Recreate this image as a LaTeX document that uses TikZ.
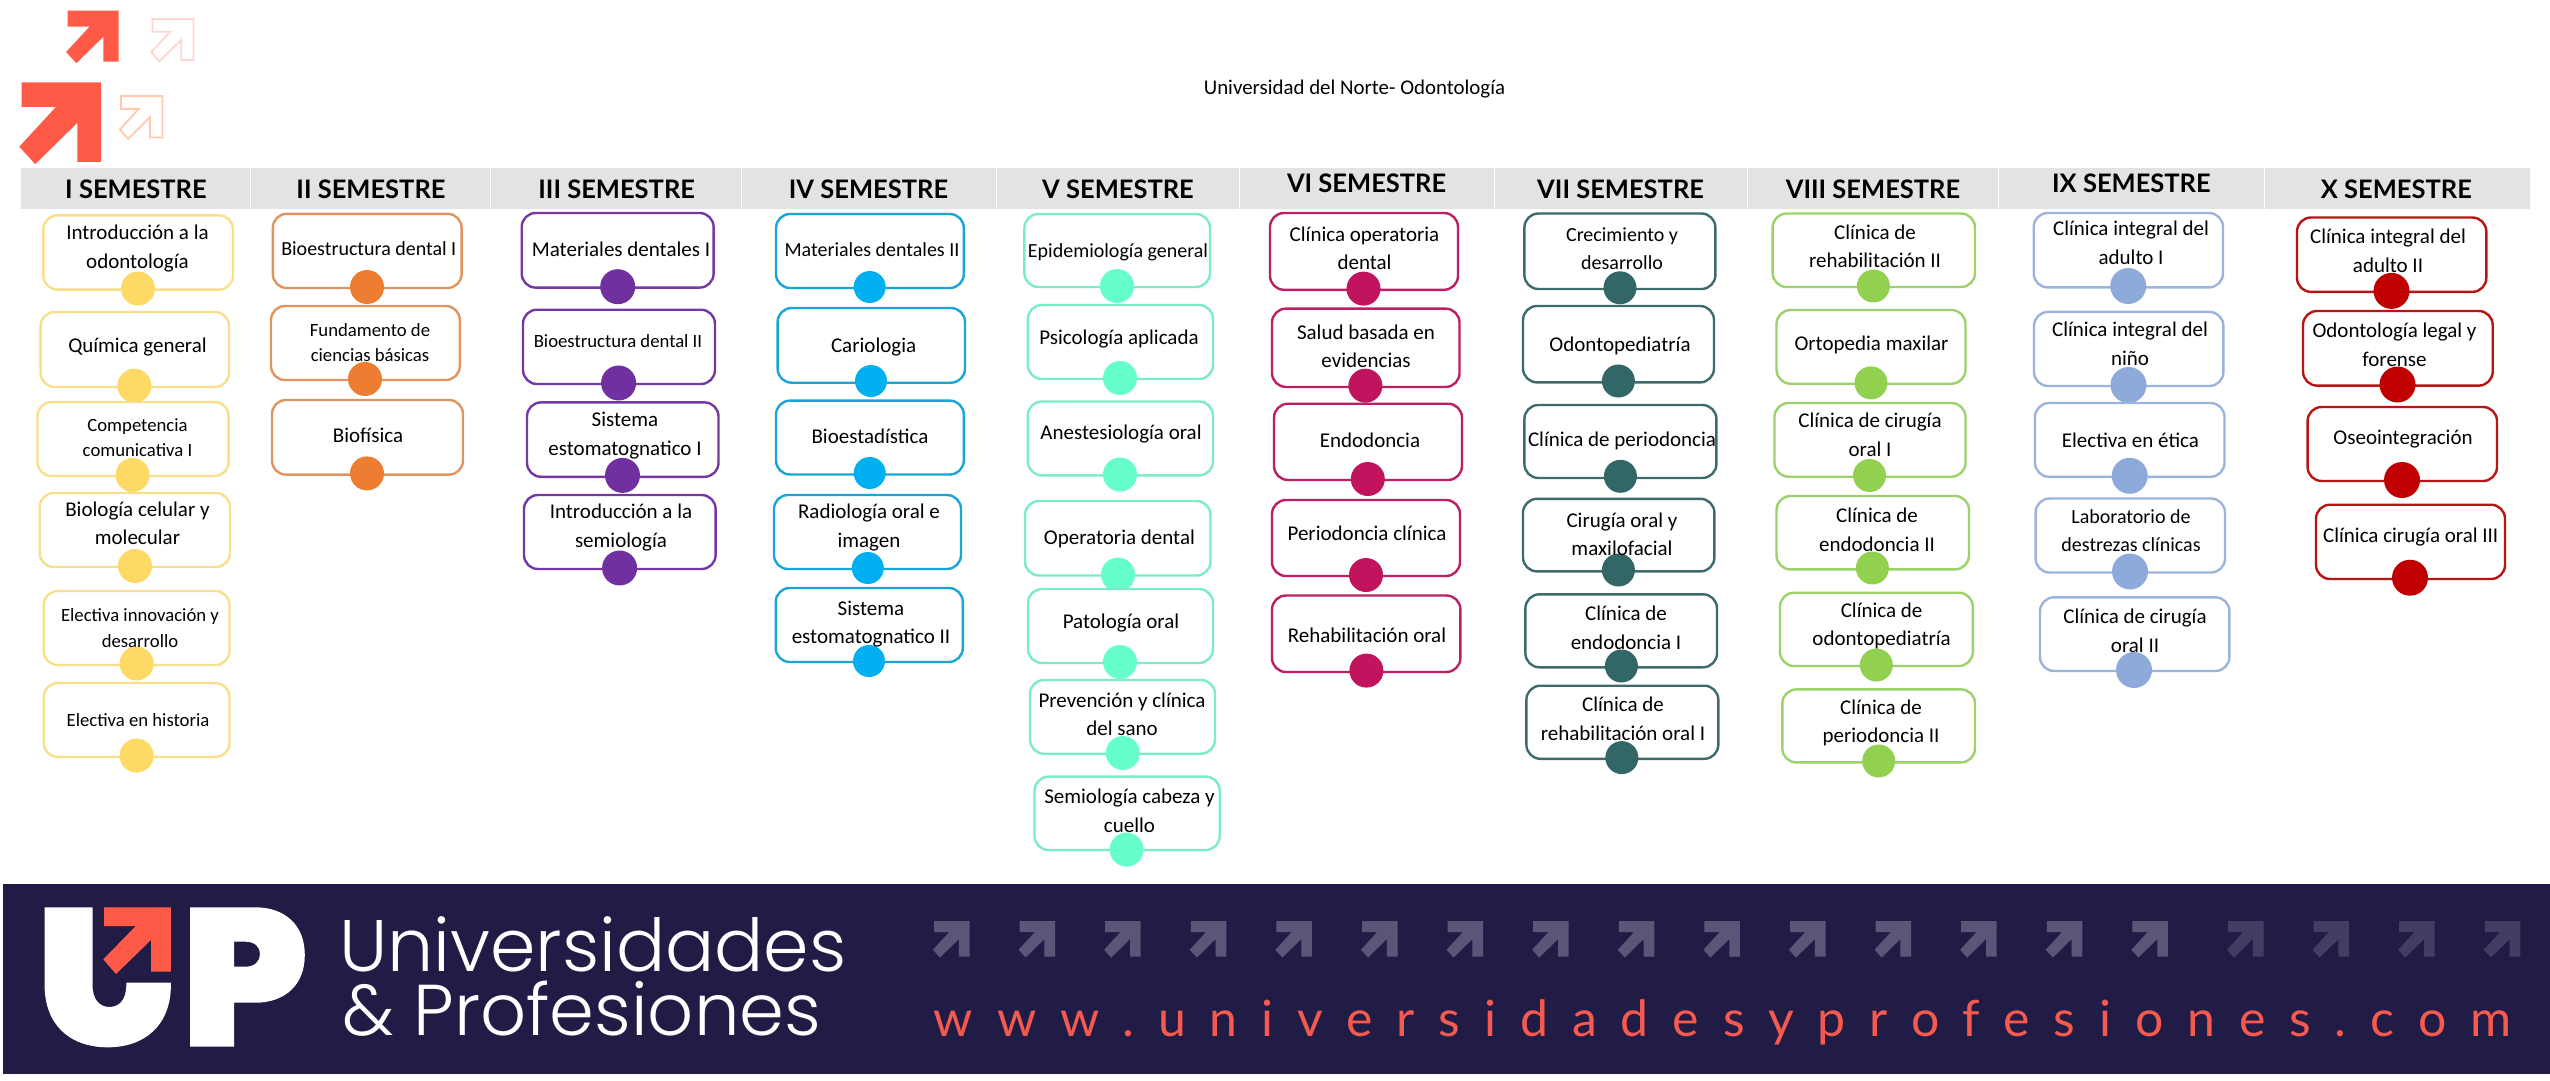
\documentclass[tikz,border=0pt]{standalone}
\usepackage{fontspec}
\setmainfont{Carlito}
\newfontfamily\headfont{Lato}
\newfontfamily\logofont{Poppins}[UprightFont=* Light]
\newfontfamily\webfont{Lato}[LetterSpace=47.8]
\usetikzlibrary{fit}

\begin{document}
\begin{tikzpicture}[x=1pt,y=-1pt]
  % Local definitions
  \def\dotsize{34pt}
  \def\arrowmark#1#2#3#4{\path[#1,shift={(#2,#3)},x=#4pt,y=-#4pt]
    (0,0) -- (1,0) -- (1,1) -- (.7,1) -- (.7,.51) -- (.17,1.03) -- (-.03,.81) -- (.43,.31) -- (0,.31) -- cycle;}
  \def\semester#1#2#3#4#5#6{
    \node[headcell,fit={(#2,168) (#3,209)}] (#1) {};
    \node[headtext] (#1t) at (#4,#5) {#6};}
  \def\course#1#2#3#4#5#6#7{
    \node[coursebox,fit={#2 #3}] (#1) {};
    \node[coursedot,minimum size=\dotsize] (#1d) at #4 {};
    \node[#6] (#1t) at #5 {#7};}

  % Key Colors
  \definecolor{arrowcolor}{HTML}{FF5A47}
  \definecolor{navycolor}{HTML}{211C46}
  \definecolor{webcolor}{HTML}{F6594E}
  \definecolor{markcolor}{HTML}{5B5578}
  \definecolor{dimcolor}{HTML}{433D63}
  \definecolor{palepink}{HTML}{FFD5D0}
  \definecolor{palepeach}{HTML}{FFC9AD}

  % Styles
  \tikzstyle{headcell}=[inner sep=0,outer sep=0,fill=black!11]
  \tikzstyle{headtext}=[inner sep=0,font=\headfont\bfseries\fontsize{25.5}{30}\selectfont]
  \tikzstyle{coursebox}=[inner sep=0,outer sep=0,draw=boxcolor,line width=2.4pt,rounded corners=14pt,fill=white]
  \tikzstyle{coursedot}=[circle,inner sep=0,fill=dotcolor]
  \tikzstyle{bigtext}=[inner sep=0,yshift=-1.5pt,align=center,font=\fontsize{21}{28.5}\selectfont]
  \tikzstyle{midtext}=[inner sep=0,yshift=-1.5pt,align=center,font=\fontsize{20}{28}\selectfont]
  \tikzstyle{smalltext}=[inner sep=0,yshift=-1.5pt,align=center,font=\fontsize{18.7}{25.5}\selectfont]

  \useasboundingbox (0,0) rectangle (2550,1081);

  % Top marks
  \arrowmark{fill=arrowcolor}{21.7}{82.3}{79.5}
  \arrowmark{fill=arrowcolor}{67.7}{10.7}{51}
  \arrowmark{draw=palepink,line width=1.8pt}{152.5}{19}{41}
  \arrowmark{draw=palepeach,line width=1.8pt}{121}{96}{41.5}

  \node[inner sep=0,font=\fontsize{20.9}{24}\selectfont] (title) at (1354.5,89.5) {Universidad del Norte- Odontología};

  % Semester heads
  \semester{hA}{21}{250}{136}{189}{I SEMESTRE}
  \semester{hB}{251}{490}{371}{189}{II SEMESTRE}
  \semester{hC}{491}{741}{616.7}{189}{III SEMESTRE}
  \semester{hD}{742}{995.5}{868.5}{189}{IV SEMESTRE}
  \semester{hE}{997}{1239}{1118}{189}{V SEMESTRE}
  \semester{hF}{1240}{1493.5}{1366.6}{183}{VI SEMESTRE}
  \semester{hG}{1495}{1747}{1620.6}{189}{VII SEMESTRE}
  \semester{hH}{1748}{1998}{1873}{189}{VIII SEMESTRE}
  \semester{hI}{1999}{2263.5}{2131.4}{183}{IX SEMESTRE}
  \semester{hJ}{2265}{2530}{2396.4}{189}{X SEMESTRE}

  % I
  \definecolor{boxcolor}{HTML}{F7DF8C}
  \definecolor{dotcolor}{HTML}{FFD966}
  \course{aA}{(43.3,215.3)}{(233,289.6)}{(138,288.5)}{(137.5,247)}{bigtext}{Introducción a la\\odontología}
  \course{aB}{(40.6,312)}{(229,387)}{(134.4,385.7)}{(137.5,346)}{bigtext}{Química general}
  \course{aC}{(37.5,402)}{(228.6,476)}{(132.6,475)}{(137.5,436)}{smalltext}{Competencia\\comunicativa I}
  \course{aD}{(39.7,493)}{(230,567)}{(135,566)}{(137.5,522)}{bigtext}{Biología celular y\\molecular}
  \course{aE}{(43.7,591)}{(229.5,665)}{(136.6,663.5)}{(140,626.5)}{smalltext}{Electiva innovación y\\desarrollo}
  \course{aF}{(43.7,683)}{(229.5,757)}{(136.6,755.6)}{(138,718.5)}{smalltext}{Electiva en historia}

  % II
  \definecolor{boxcolor}{HTML}{E09460}
  \definecolor{dotcolor}{HTML}{ED7D31}
  \course{bA}{(272.8,213.8)}{(461.6,288)}{(367,287)}{(368.8,247.4)}{midtext}{Bioestructura dental I}
  \course{bB}{(271,306)}{(459.8,380)}{(365,379)}{(370,341)}{smalltext}{Fundamento de\\ciencias básicas}
  \course{bC}{(272,400)}{(463,474.6)}{(367,473.4)}{(368,434)}{bigtext}{Biofísica}

  % III
  \definecolor{boxcolor}{HTML}{7438A4}
  \definecolor{dotcolor}{HTML}{7030A0}
  \def\dotsize{35pt}
  \course{cA}{(521.7,213)}{(713.6,287.6)}{(617.7,286.7)}{(621,248)}{bigtext}{Materiales dentales I}
  \course{cB}{(523,309.7)}{(715,384)}{(618.6,383)}{(618,340)}{smalltext}{Bioestructura dental II}
  \course{cC}{(527,402.4)}{(718.5,476.8)}{(622.5,475.4)}{(625,434)}{bigtext}{Sistema\\estomatognatico I}
  \course{cD}{(524,495)}{(715.6,569)}{(619.6,568)}{(621,526)}{bigtext}{Introducción a la\\semiología}

  % IV
  \definecolor{boxcolor}{HTML}{1AA5D6}
  \definecolor{dotcolor}{HTML}{00B0F0}
  \def\dotsize{32pt}
  \course{dA}{(776,214)}{(963.8,288)}{(869.7,287)}{(872,248.6)}{midtext}{Materiales dentales II}
  \course{dB}{(777.6,308)}{(965,382.7)}{(871,381)}{(873.6,345.5)}{bigtext}{Cariologia}
  \course{dC}{(776,400.6)}{(963.8,474.5)}{(869.7,473)}{(870,435)}{bigtext}{Bioestadística}
  \course{dD}{(774,495)}{(961,569)}{(867.8,568)}{(869,526)}{bigtext}{Radiología oral e\\imagen}
  \course{dE}{(775.7,588)}{(962.8,662)}{(869,661)}{(871,622.5)}{bigtext}{Sistema\\estomatognatico II}

  % V
  \definecolor{boxcolor}{HTML}{7CEBCB}
  \definecolor{dotcolor}{HTML}{66FFCC}
  \def\dotsize{34pt}
  \course{eA}{(1024.4,214)}{(1210,287)}{(1117,286)}{(1118,251)}{midtext}{Epidemiología general}
  \course{eB}{(1027.8,305)}{(1213,379)}{(1120,378)}{(1119,338)}{bigtext}{Psicología aplicada}
  \course{eC}{(1027.8,401.5)}{(1213,475.4)}{(1120,474.5)}{(1121,433)}{bigtext}{Anestesiología oral}
  \course{eD}{(1025,501)}{(1210.5,575.5)}{(1118,574.6)}{(1119.4,537)}{bigtext}{Operatoria dental}
  \course{eE}{(1028,589)}{(1213,663)}{(1120,662)}{(1121,621.4)}{bigtext}{Patología oral}
  \course{eF}{(1030,680)}{(1215,753.7)}{(1122.8,753)}{(1122,712.6)}{bigtext}{Prevención y clínica\\del sano}
  \course{eG}{(1034.5,776.6)}{(1219.7,850)}{(1126.6,849.6)}{(1129.5,809.5)}{bigtext}{Semiología cabeza y\\cuello}

  % VI
  \definecolor{boxcolor}{HTML}{BE1E63}
  \definecolor{dotcolor}{HTML}{C0145F}
  \course{fA}{(1270,213)}{(1458,289.8)}{(1363.5,288.6)}{(1364.5,247)}{bigtext}{Clínica operatoria\\dental}
  \course{fB}{(1272,308.6)}{(1459.5,387)}{(1365.4,385.7)}{(1366,345)}{bigtext}{Salud basada en\\evidencias}
  \course{fC}{(1274,403.7)}{(1462,480)}{(1367.8,479)}{(1370,438.4)}{bigtext}{Endodoncia}
  \course{fD}{(1272,500)}{(1460,576)}{(1366,575)}{(1367,532)}{bigtext}{Periodoncia clínica}
  \course{fE}{(1272,595.5)}{(1460.4,672)}{(1366.4,670.6)}{(1367,633.5)}{bigtext}{Rehabilitación oral}

  % VII
  \definecolor{boxcolor}{HTML}{3D6B6D}
  \definecolor{dotcolor}{HTML}{336666}
  \def\dotsize{33pt}
  \course{gA}{(1524.4,213.5)}{(1715.4,289)}{(1620,287.8)}{(1622,247)}{midtext}{Crecimiento y\\desarrollo}
  \course{gB}{(1523,306)}{(1714,382.4)}{(1618.4,381)}{(1620,344.5)}{bigtext}{Odontopediatría}
  \course{gC}{(1524.4,405)}{(1716.4,478)}{(1620.4,476.3)}{(1622,439.6)}{bigtext}{Clínica de periodoncia}
  \course{gD}{(1523,498.8)}{(1714.4,571.4)}{(1618.4,570)}{(1622,532.6)}{bigtext}{Cirugía oral y\\maxilofacial}
  \course{gE}{(1525.4,594.3)}{(1717,667.3)}{(1621.4,666)}{(1626,626.5)}{bigtext}{Clínica de\\endodoncia I}
  \course{gF}{(1526.4,685.7)}{(1718.3,758.8)}{(1621.8,757.6)}{(1623,717.5)}{bigtext}{Clínica de\\rehabilitación oral I}

  % VIII
  \definecolor{boxcolor}{HTML}{9BD36A}
  \definecolor{dotcolor}{HTML}{92D050}
  \course{hhA}{(1772.6,213.5)}{(1975,287)}{(1873.4,286)}{(1875,245)}{bigtext}{Clínica de\\rehabilitación II}
  \course{hhB}{(1776.5,310)}{(1965.5,383.7)}{(1871,382.9)}{(1871.5,343.7)}{bigtext}{Ortopedia maxilar}
  \course{hhC}{(1774.5,403)}{(1965.5,476.7)}{(1869.5,475.5)}{(1870,433.5)}{bigtext}{Clínica de cirugía\\oral I}
  \course{hhD}{(1776.5,496)}{(1969,569.4)}{(1872.4,568)}{(1877,528.5)}{bigtext}{Clínica de\\endodoncia II}
  \course{hhE}{(1780,592.7)}{(1972.8,666)}{(1876.3,665)}{(1881.6,624.5)}{bigtext}{Clínica de\\odontopediatría}
  \course{hhF}{(1782.3,689.4)}{(1975,762.4)}{(1878.7,761)}{(1881,721.6)}{bigtext}{Clínica de\\periodoncia II}

  % IX
  \definecolor{boxcolor}{HTML}{9CB3DC}
  \definecolor{dotcolor}{HTML}{8EAADB}
  \def\dotsize{36pt}
  \course{iA}{(2033.7,213)}{(2223,287.4)}{(2128.2,286)}{(2131,241.5)}{bigtext}{Clínica integral del\\adulto I}
  \course{iB}{(2034,311.9)}{(2223.4,386)}{(2128.5,385)}{(2130,342.4)}{bigtext}{Clínica integral del\\niño}
  \course{iC}{(2035,403)}{(2224.5,476.8)}{(2129.7,475.8)}{(2130.4,438.6)}{bigtext}{Electiva en ética}
  \course{iD}{(2035.6,498.5)}{(2225,572.5)}{(2130,571.5)}{(2131,528.8)}{midtext}{Laboratorio de\\destrezas clínicas}
  \course{iE}{(2040,597.3)}{(2229.4,671)}{(2134,670)}{(2135,629.5)}{bigtext}{Clínica de cirugía\\oral II}

  % X
  \definecolor{boxcolor}{HTML}{B81414}
  \definecolor{dotcolor}{HTML}{C00000}
  \course{jA}{(2297,217.5)}{(2486.3,291.9)}{(2391.5,290.9)}{(2388,249.4)}{bigtext}{Clínica integral del\\adulto II}
  \course{jB}{(2303,311)}{(2492.7,385.6)}{(2397.5,384.5)}{(2394.5,343.4)}{bigtext}{Odontología legal y\\forense}
  \course{jC}{(2307.6,407)}{(2497,481)}{(2402,480)}{(2403,437.6)}{bigtext}{Oseointegración}
  \course{jD}{(2316,504.7)}{(2505,579)}{(2410,577.7)}{(2410.7,535.3)}{bigtext}{Clínica cirugía oral III}

  % Bottom band
  \fill[navycolor] (3,884) rectangle (2550,1074);
  \fill[white] (44.6,907.3) -- (92.5,907.3) -- (92.5,985)
    .. controls (92.5,1000) and (100,1007) .. (109.4,1007)
    .. controls (119,1007) and (126.3,1000) .. (126.3,985)
    -- (126.3,982.7) -- (170.9,982.7) -- (170.9,985)
    .. controls (170.9,1025) and (145,1047.3) .. (107.7,1047.3)
    .. controls (70,1047.3) and (44.6,1025) .. (44.6,985) -- cycle;
  \fill[arrowcolor] (104,907.3) -- (170.9,907.3) -- (170.9,971.7) -- (151,971.7) -- (151,940)
    -- (116,974) -- (103.3,959.3) -- (135.8,926) -- (104,926) -- cycle;
  \fill[white,even odd rule] (190,907.3) -- (255,907.3)
    .. controls (285,907.3) and (304.8,925) .. (304.8,955)
    .. controls (304.8,985) and (285,1002.7) .. (255,1002.7)
    -- (234,1002.7) -- (234,1046.7) -- (190,1046.7) -- cycle
    (234,941.7) -- (245.5,941.7) .. controls (255,941.7) and (260,947) .. (260,954)
    .. controls (260,961) and (255,966.7) .. (245.5,966.7) -- (234,966.7) -- cycle;

  \node[anchor=base west,inner sep=0,text=white,font=\logofont\fontsize{73}{80}\selectfont] (brandA) at (339,971.7) {Universidades};
  \node[anchor=base west,inner sep=0,text=white,font=\logofont\fontsize{72}{80}\selectfont] (brandB) at (342,1035.7) {\& Profesiones};

  \foreach \i in {0,...,14}
    {\arrowmark{fill=markcolor}{934+85.6*\i}{921}{35.5}}
  \foreach \i in {0,...,3}
    {\arrowmark{fill=dimcolor}{2228+85.6*\i}{921}{35.5}}

  \node[anchor=base west,inner sep=0,text=webcolor,font=\webfont\fontsize{50}{60}\selectfont] (web) at (933.7,1036.5) {www.universidadesyprofesiones.com};
\end{tikzpicture}
\end{document}
